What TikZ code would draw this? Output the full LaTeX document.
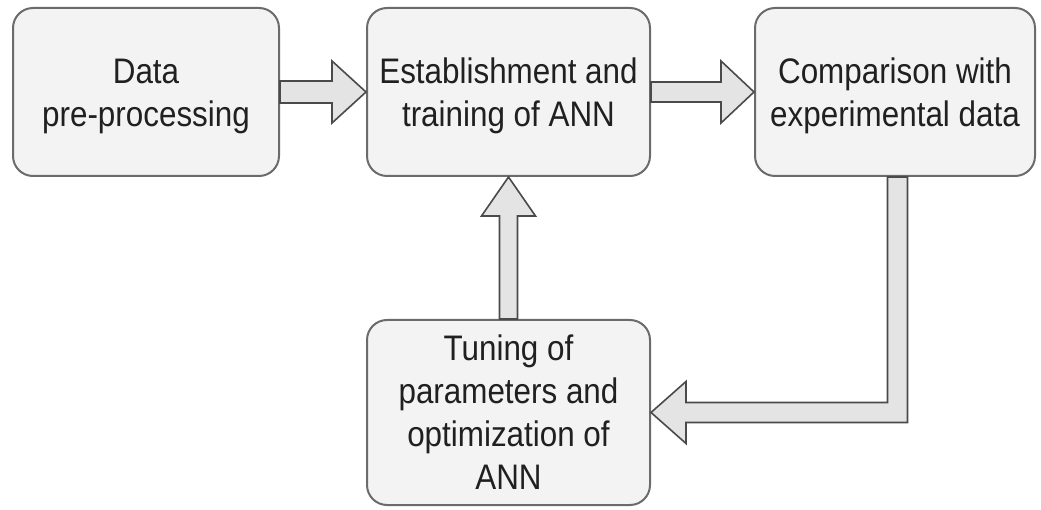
\documentclass[tikz,border=0pt]{standalone}
\usepackage{fontspec}
\usepackage{graphicx}
\setmainfont{Liberation Sans}
\usetikzlibrary{calc}
\definecolor{boxfill}{HTML}{F3F3F3}
\definecolor{boxline}{HTML}{6B6B6B}
\definecolor{arrfill}{HTML}{E4E4E4}
\definecolor{arrline}{HTML}{4A4A4A}
\definecolor{txt}{HTML}{202020}
% centred lines of slightly tall lettering, set a little lower than the strut box
\newcommand\boxtext[1]{\raisebox{-4pt}[\height][\depth]{\scalebox{1}[1.13]{%
  \fontsize{31.4}{38}\selectfont
  \begin{tabular}{@{}c@{}}#1\end{tabular}}}}
\begin{document}
\begin{tikzpicture}[x=1pt,y=-1pt,
  box/.style={draw=boxline, fill=boxfill, line width=2pt, rounded corners=20pt,
    align=center, inner sep=0pt, text=txt},
  blk/.style={draw=arrline, fill=arrfill, line width=1.6pt, line join=miter}]
\useasboundingbox (0,0) rectangle (1041,510);

% process boxes
\node[box, minimum width=266pt, minimum height=168pt] (pre) at (146,92)
  {\boxtext{Data\\pre-processing}};
\node[box, minimum width=283pt, minimum height=168pt] (ann) at (508.5,92)
  {\boxtext{Establishment and\\training of ANN}};
\node[box, minimum width=280pt, minimum height=168pt] (cmp) at (895,92)
  {\boxtext{Comparison with\\experimental data}};
\node[box, minimum width=283pt, minimum height=185pt] (tun) at (508.5,412.5)
  {\boxtext{Tuning of\\parameters and\\optimization of\\ANN}};

% block arrow: pre-processing -> ANN
\draw[blk] ($(pre.east)+(0,-11)$) -- ($(ann.west)+(-34,-11)$) -- ($(ann.west)+(-34,-31)$)
  -- (ann.west) -- ($(ann.west)+(-34,31)$) -- ($(ann.west)+(-34,11)$)
  -- ($(pre.east)+(0,11)$) -- cycle;

% block arrow: ANN -> comparison
\draw[blk] ($(ann.east)+(0,-10)$) -- ($(cmp.west)+(-33,-10)$) -- ($(cmp.west)+(-33,-31)$)
  -- (cmp.west) -- ($(cmp.west)+(-33,31)$) -- ($(cmp.west)+(-33,10)$)
  -- ($(ann.east)+(0,10)$) -- cycle;

% block arrow: tuning -> ANN (upwards)
\draw[blk] ($(tun.north)+(-9,0)$) -- ($(ann.south)+(-9,39)$) -- ($(ann.south)+(-27,39)$)
  -- (ann.south) -- ($(ann.south)+(27,39)$) -- ($(ann.south)+(9,39)$)
  -- ($(tun.north)+(9,0)$) -- cycle;

% bent block arrow: comparison -> tuning
\coordinate (dn) at ($(cmp.south)+(2.5,0)$);
\coordinate (k) at (dn |- tun.east);
\coordinate (h) at ($(tun.east)+(35,0)$);
\draw[blk] ($(dn)+(-10,0)$) -- ($(k)+(-10,-10)$) -- ($(h)+(0,-10)$) -- ($(h)+(0,-31)$)
  -- (tun.east) -- ($(h)+(0,31)$) -- ($(h)+(0,10)$) -- ($(k)+(10,10)$)
  -- ($(dn)+(10,0)$) -- cycle;
\end{tikzpicture}
\end{document}
